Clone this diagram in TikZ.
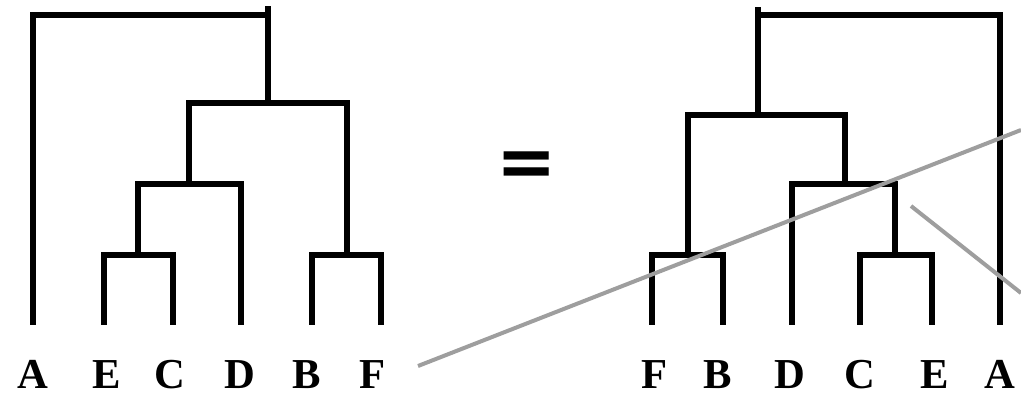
\documentclass[tikz,border=0pt]{standalone}
\usepackage{fontspec}
\setmainfont{Liberation Serif}
\newfontfamily\eqfont{DejaVu Sans}
\begin{document}
\begin{tikzpicture}[x=0.75pt,y=-0.75pt,
  tree/.style={line width=3.9pt,line join=miter,line cap=rect,black},
  cut/.style={line width=3pt,color=black!38},
  leaf/.style={anchor=base,inner sep=0pt,text depth=0pt,font=\fontsize{32}{34}\selectfont\bfseries}]
\useasboundingbox (0,0) rectangle (1021,397);
% left tree
\draw[tree] (33,322) |- (268,15) -- (268,9);
\draw[tree] (268,15) -- (268,103);
\draw[tree] (189,184) |- (347,103) -- (347,255);
\draw[tree] (138,255) |- (241,184) -- (241,322);
\draw[tree] (104,322) |- (173,255) -- (173,322);
\draw[tree] (312,322) |- (381,255) -- (381,322);
% right tree
\draw[tree] (758,115) |- (1000,15) -- (1000,322);
\draw[tree] (758,15) -- (758,10);
\draw[tree] (688,255) |- (845,115) -- (845,184);
\draw[tree] (652,322) |- (723,255) -- (723,322);
\draw[tree] (792,322) |- (895,184) -- (895,255);
\draw[tree] (860,322) |- (932,255) -- (932,322);
% labels
\node[leaf] (lA) at (33,388) {A};
\node[leaf] (lE) at (107,388) {E};
\node[leaf] (lC) at (170,388) {C};
\node[leaf] (lD) at (240,388) {D};
\node[leaf] (lB) at (307,388) {B};
\node[leaf] (lF) at (373,388) {F};
\node[leaf] (rF) at (655,388) {F};
\node[leaf] (rB) at (718,388) {B};
\node[leaf] (rD) at (790,388) {D};
\node[leaf] (rC) at (860,388) {C};
\node[leaf] (rE) at (935,388) {E};
\node[leaf] (rA) at (1000,388) {A};
% equals
\node[inner sep=0pt,anchor=base,font=\fontsize{54}{54}\eqfont\bfseries] (eq) at (527,186) {=};
% gray lines
\coordinate (g1) at (418,366);
\coordinate (g2) at (1021,130);
\coordinate (g3) at (911,206);
\coordinate (g4) at (1021,293);
\draw[cut] (g1) -- (g2);
\draw[cut] (g3) -- (g4);
\end{tikzpicture}
\end{document}
